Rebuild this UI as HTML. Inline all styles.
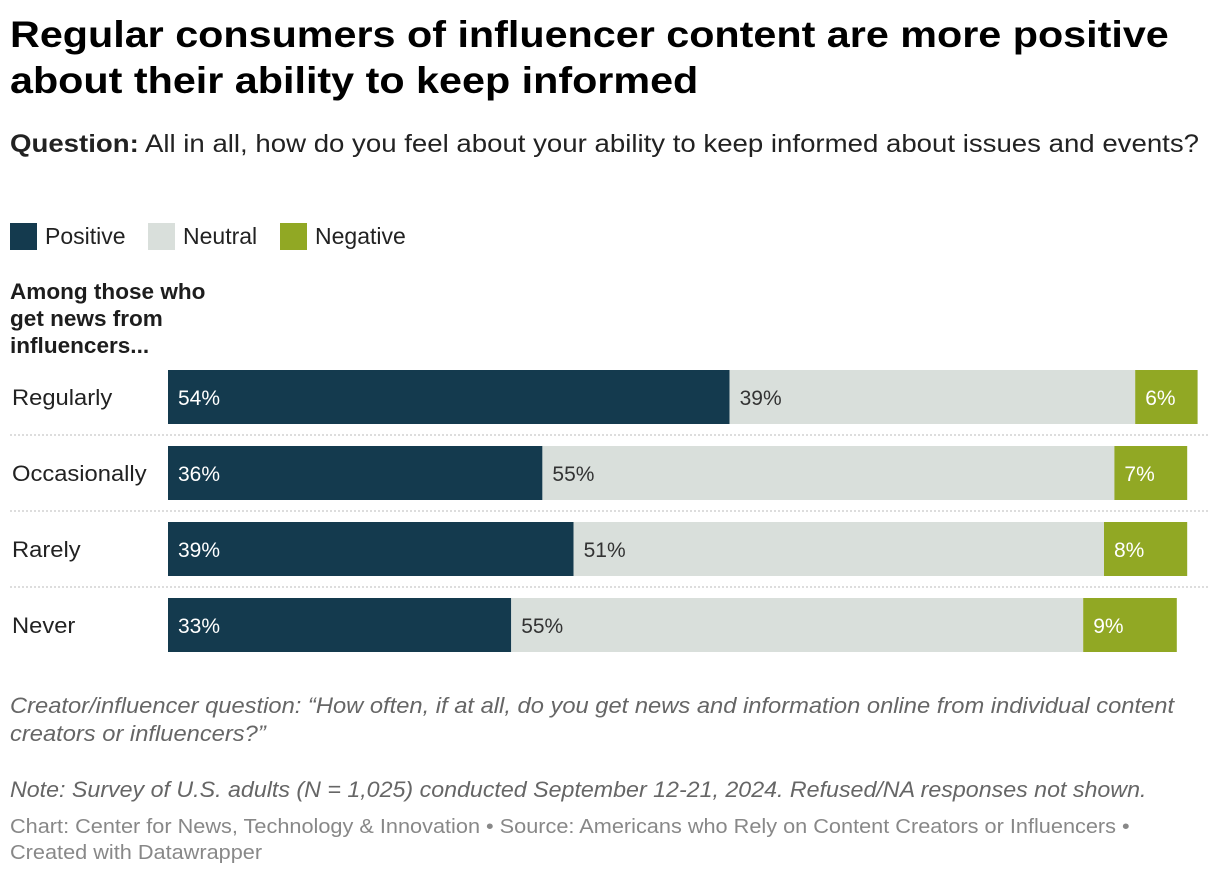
<!DOCTYPE html>
<html><head><meta charset="utf-8">
<style>
body{margin:0;width:1220px;height:878px;background:#fff;font-family:"Liberation Sans",Arial,sans-serif;color:#1d1d1d;position:relative;overflow:hidden}
.t{position:absolute;left:10px;white-space:nowrap;transform-origin:0 0}
#title{top:12px;font-size:37px;font-weight:bold;line-height:46px;color:#000;transform:scaleX(1.116)}
#q{top:130px;font-size:25px;color:#222;transform:scaleX(1.104)}
.leg{position:absolute;top:222px;height:28px;display:flex;align-items:center;font-size:23px;color:#222}
.sw{width:27px;height:27px;margin-right:8px}
#hdr{top:278px;font-size:22px;font-weight:bold;line-height:27px;transform:scaleX(1.025)}
.note{font-size:22px;font-style:italic;color:#666;line-height:28px}
.foot{font-size:20px;color:#888;line-height:26px;transform:scaleX(1.085)}
</style></head><body>
<div class="t" id="title">Regular consumers of influencer content are more positive<br>about their ability to keep informed</div>
<div class="t" id="q"><b>Question:</b> All in all, how do you feel about your ability to keep informed about issues and events?</div>
<div class="leg" style="left:10px"><div class="sw" style="background:#143a4e"></div>Positive</div>
<div class="leg" style="left:148px"><div class="sw" style="background:#d9dfdb"></div>Neutral</div>
<div class="leg" style="left:280px"><div class="sw" style="background:#91a824"></div>Negative</div>
<div class="t" id="hdr">Among those who<br>get news from<br>influencers...</div>
<svg id="chart" width="1220" height="878" style="position:absolute;left:0;top:0"></svg>
<div class="t note" style="top:692px;transform:scaleX(1.078)">Creator/influencer question: “How often, if at all, do you get news and information online from individual content<br>creators or influencers?”</div>
<div class="t note" style="top:776px;transform:scaleX(1.055)">Note: Survey of U.S. adults (N = 1,025) conducted September 12-21, 2024. Refused/NA responses not shown.</div>
<div class="t foot" style="top:814px">Chart: Center for News, Technology &amp; Innovation • Source: Americans who Rely on Content Creators or Influencers •<br>Created with Datawrapper</div>
<script>
const categories=["Regularly","Occasionally","Rarely","Never"];
const positive=[54,36,39,33];
const neutral=[39,55,51,55];
const negative=[6,7,8,9];
const svg=document.getElementById('chart');
const NS="http://www.w3.org/2000/svg";
const x0=168,scale=10.4,top0=370,bh=54,step=76;
const xs=v=>x0+v*scale;
function mk(tag,attrs){const e=document.createElementNS(NS,tag);for(const k in attrs)e.setAttribute(k,attrs[k]);svg.appendChild(e);return e;}
categories.forEach((c,i)=>{
  const y=top0+i*step;
  const lab=mk('text',{x:12,y:y+bh/2+8,'font-size':22,fill:'#222',textLength:null});lab.textContent=c;
  lab.removeAttribute('textLength');
  lab.setAttribute('transform','translate(12,0) scale(1.08,1) translate(-12,0)');
  
  
  const segs=[[positive[i],'#143a4e','#fff','positive'],[neutral[i],'#d9dfdb','#333','neutral'],[negative[i],'#91a824','#fff','negative']];
  let acc=0;
  segs.forEach(s=>{
    const r=mk('rect',{x:xs(acc),y:y,width:s[0]*scale,height:bh,fill:s[1]});
    
    
    const t=mk('text',{x:xs(acc)+10,y:y+bh/2+8,'font-size':21,fill:s[2]});t.textContent=s[0]+'%';
    
    
    acc+=s[0];
  });
  if(i<categories.length-1){
    const l=mk('line',{x1:10,x2:1210,y1:y+bh+11,y2:y+bh+11,stroke:'#bbb','stroke-dasharray':'2,2'});
    
    
  }
});
</script>
</body></html>
